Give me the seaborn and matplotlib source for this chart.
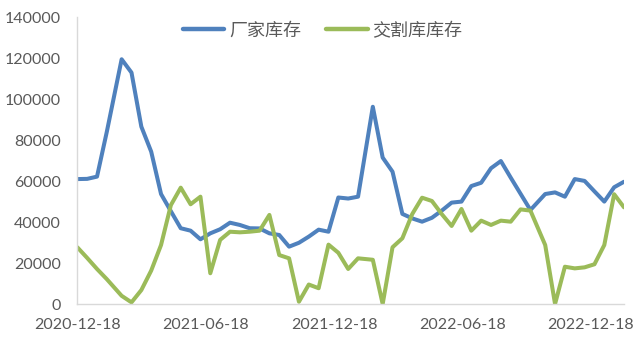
import pandas as pd
import seaborn as sns
import matplotlib
matplotlib.use("Agg")
import matplotlib.pyplot as plt
import matplotlib.dates as mdates
from matplotlib.ticker import MultipleLocator, FuncFormatter

dates = [
    "2020-12-18", "2021-01-01", "2021-01-15", "2021-01-29", "2021-02-19",
    "2021-03-05", "2021-03-19", "2021-04-02", "2021-04-16", "2021-04-30",
    "2021-05-14", "2021-05-28", "2021-06-11", "2021-06-25", "2021-07-09",
    "2021-07-23", "2021-08-06", "2021-08-20", "2021-09-03", "2021-09-17",
    "2021-10-01", "2021-10-15", "2021-10-29", "2021-11-12", "2021-11-26",
    "2021-12-10", "2021-12-24", "2022-01-07", "2022-01-21", "2022-02-11",
    "2022-02-25", "2022-03-11", "2022-03-25", "2022-04-08", "2022-04-22",
    "2022-05-06", "2022-05-20", "2022-06-03", "2022-06-17", "2022-07-01",
    "2022-07-15", "2022-07-29", "2022-08-12", "2022-08-26", "2022-09-09",
    "2022-09-23", "2022-10-14", "2022-10-28", "2022-11-11", "2022-11-25",
    "2022-12-09", "2022-12-23", "2023-01-06", "2023-01-20", "2023-02-03",
]

factory_stock = [
    61000, 61100, 62200, 84200, 119500,
    113000, 86600, 74400, 53700, 45300,
    37000, 35800, 31600, 34500, 36500,
    39700, 38600, 37000, 36900, 34500,
    33700, 28000, 29900, 32900, 36300,
    35300, 52000, 51500, 52400, 96300,
    71500, 64600, 44000, 41800, 40200,
    42100, 45600, 49500, 50000, 57600,
    59200, 66300, 69800, 61700, 53800,
    45900, 53700, 54500, 52400, 61000,
    60100, 55000, 50000, 57000, 59700,
]

delivery_stock = [
    27700, 22500, 17100, 12100, 4000,
    800, 6800, 16300, 28800, 48300,
    56800, 48700, 52400, 15000, 31300,
    35300, 35000, 35300, 35800, 43500,
    23900, 22300, 1100, 9500, 7700,
    29000, 25000, 17100, 22300, 21600,
    0, 27700, 32100, 43900, 51900,
    50300, 43900, 38100, 46400, 35800,
    40700, 38600, 40700, 40200, 46200,
    45600, 28800, 0, 18200, 17400,
    17900, 19400, 28800, 53600, 47200,
]

series_names = ["厂家库存", "交割库库存"]
series_colors = ["#4F81BD", "#9BBB59"]
x_tick_labels = ["2020-12-18", "2021-06-18", "2021-12-18", "2022-06-18", "2022-12-18"]

df = pd.DataFrame({
    "日期": pd.to_datetime(dates),
    series_names[0]: factory_stock,
    series_names[1]: delivery_stock,
})
long_df = df.melt(id_vars="日期", var_name="系列", value_name="库存")

sns.set_style("white")
plt.rcParams["font.family"] = ["Lato", "Noto Sans CJK SC", "DejaVu Sans"]

fig = plt.figure(figsize=(6.4, 3.43), dpi=100)
ax = fig.add_axes([0.1208, 0.1137, 0.8542, 0.8359])

sns.lineplot(data=long_df, x="日期", y="库存", hue="系列",
             palette=series_colors, hue_order=series_names,
             linewidth=2.9, ax=ax, legend=True)
for ln in ax.get_lines():
    ln.set_solid_joinstyle("round")

ax.set_xlim(df["日期"].min(), df["日期"].max())
ax.set_ylim(0, 140000)
ax.yaxis.set_major_locator(MultipleLocator(20000))
ax.yaxis.set_major_formatter(FuncFormatter(lambda v, p: f"{int(v)}"))
ax.set_xticks(pd.to_datetime(x_tick_labels))
ax.set_xticklabels(x_tick_labels)
ax.set_xlabel("")
ax.set_ylabel("")

axis_color = "#D9D9D9"
for side in ["top", "right"]:
    ax.spines[side].set_visible(False)
for side in ["left", "bottom"]:
    ax.spines[side].set_color(axis_color)
    ax.spines[side].set_linewidth(1.0)
ax.tick_params(axis="both", direction="in", length=4, width=1.0,
               color=axis_color, labelcolor="#595959", labelsize=11.5)
ax.tick_params(axis="y", pad=12)
ax.tick_params(axis="x", pad=10)
ax.grid(False)

handles, labels = ax.get_legend_handles_labels()
ax.get_legend().remove()
leg = fig.legend(handles, labels, loc="center", bbox_to_anchor=(0.504, 0.9105),
                 ncol=2, frameon=False, handlelength=2.3, handletextpad=0.25,
                 columnspacing=1.4,
                 prop={"family": ["Noto Sans CJK SC", "DejaVu Sans"], "size": 13})
for t in leg.get_texts():
    t.set_color("#595959")
for h in leg.legend_handles:
    h.set_linewidth(3.2)

fig.savefig("out.png", dpi=100)
